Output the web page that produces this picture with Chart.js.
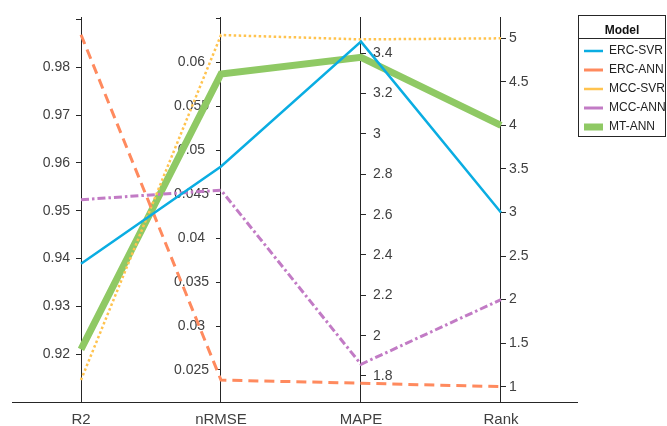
<!DOCTYPE html>
<html>
<head>
<meta charset="utf-8">
<script src="https://cdn.jsdelivr.net/npm/chart.js@4.4.1/dist/chart.umd.min.js"></script>
<style>
  html, body { margin: 0; padding: 0; background: #fff; }
</style>
</head>
<body>
<canvas id="chart" width="667" height="426"></canvas>
<script>
// axes of the parallel plot, left to right
var axisNames = ['R2', 'nRMSE', 'MAPE', 'Rank'];
var models = ['ERC-SVR', 'ERC-ANN', 'MCC-SVR', 'MCC-ANN', 'MT-ANN'];

// one value per model, in the order of `models`
var r2Values = [0.9389, 0.9868, 0.9146, 0.9523, 0.9210];
var nrmseValues = [0.04815, 0.02386, 0.0631, 0.04546, 0.05867];
var mapeValues = [3.458, 1.764, 3.469, 1.858, 3.380];
var rankValues = [3, 1, 5, 2, 4];

// range of every coordinate axis
var axisMin = [0.9100, 0.02136, 1.671, 0.824];
var axisMax = [0.9905, 0.06515, 3.580, 5.245];
var axisStep = [0.01, 0.005, 0.2, 0.5];

var colors = ['#0aade2', '#ff8a5e', '#ffc34f', '#c27bc5', '#8fc964'];
var widths = [2.5, 3, 2.5, 3, 7];
var dashes = [[], [10, 6], [2.5, 2.5], [8, 3, 2.5, 3], []];

var allValues = [r2Values, nrmseValues, mapeValues, rankValues];
var axisIds = ['yR2', 'yNRMSE', 'yMAPE', 'yRank'];
var ink = '#262626';
var txt = '#404040';

Chart.defaults.font.family = "'Liberation Sans', Arial, sans-serif";
Chart.defaults.color = txt;

var datasets = models.map(function(name, i) {
  return {
    label: name,
    data: axisNames.map(function(a, k) {
      return { x: k, y: (allValues[k][i] - axisMin[k]) / (axisMax[k] - axisMin[k]) };
    }),
    borderColor: colors[i],
    backgroundColor: colors[i],
    borderWidth: widths[i],
    borderDash: dashes[i],
    pointRadius: 0,
    tension: 0,
    yAxisID: 'y'
  };
});

function fmt(v) { return String(+v.toFixed(3)); }

var labelFilters = [
  function(v) { return (v < 0.915 || v > 0.985) ? '' : v.toFixed(2); },
  function(v) { return v > 0.0625 ? '' : fmt(v); },
  function(v) { return fmt(v); },
  function(v) { return fmt(v); }
];
var sides = ['left', 'left', 'right', 'right'];
var pads = [6, 7, 7, 3];

var scales = {
  x: {
    type: 'linear',
    min: -0.4929,
    max: 3.543,
    grid: { drawOnChartArea: false, drawTicks: false },
    border: { display: true, color: ink, width: 1 },
    ticks: {
      stepSize: 1,
      includeBounds: false,
      padding: 9,
      maxRotation: 0,
      color: txt,
      font: { size: 15 },
      callback: function(v) { return axisNames[v] || ''; }
    },
    afterFit: function(s) { s.height = 24; s.paddingLeft = 0; s.paddingRight = 0; }
  },
  y: { display: false, min: 0, max: 1 }
};

axisIds.forEach(function(id, k) {
  scales[id] = {
    type: 'linear',
    position: sides[k],
    min: axisMin[k],
    max: axisMax[k],
    grid: { drawOnChartArea: false, drawTicks: true, tickLength: 5, color: ink },
    border: { display: true, color: ink, width: 1 },
    ticks: {
      stepSize: axisStep[k],
      includeBounds: false,
      autoSkip: false,
      padding: pads[k],
      crossAlign: k === 1 ? 'center' : 'near',
      color: txt,
      font: { size: 14 },
      callback: labelFilters[k]
    },
    afterFit: function(s) { s.width = 0; s.paddingTop = 0; s.paddingBottom = 0; }
  };
});

// put each coordinate axis at its position on the x scale,
// keeping a box wide enough for the tick labels
var placeAxes = {
  id: 'placeAxes',
  afterLayout: function(chart) {
    axisIds.forEach(function(id, k) {
      var s = chart.scales[id];
      var px = chart.scales.x.getPixelForValue(k);
      if (sides[k] === 'left') {
        s.left = px - 70;
        s.right = px;
      } else {
        s.left = px;
        s.right = px + 70;
      }
      s.width = 70;
    });
  }
};

// box and title rule round the legend
var legendFrame = {
  id: 'legendFrame',
  afterDraw: function(chart) {
    var lg = chart.legend;
    var ctx = chart.ctx;
    var x0 = Math.round(lg.left) + 1.5;
    var x1 = 665.5;
    var y0 = Math.round(lg.top) - 1.5;
    ctx.save();
    ctx.strokeStyle = ink;
    ctx.lineWidth = 1;
    ctx.strokeRect(x0, y0, x1 - x0, 121);
    ctx.beginPath();
    ctx.moveTo(x0, y0 + 23);
    ctx.lineTo(x1, y0 + 23);
    ctx.stroke();
    ctx.restore();
  }
};

new Chart(document.getElementById('chart').getContext('2d'), {
  type: 'line',
  data: { datasets: datasets },
  options: {
    responsive: false,
    animation: false,
    devicePixelRatio: 1,
    layout: { padding: { left: 12, top: 17, right: 0, bottom: 0 } },
    scales: scales,
    plugins: {
      tooltip: { enabled: false },
      legend: {
        position: 'right',
        align: 'start',
        maxWidth: 90,
        title: {
          display: true,
          text: 'Model',
          color: '#111',
          font: { size: 12, weight: 'bold', lineHeight: 1 },
          padding: { top: 8, bottom: 1 }
        },
        labels: {
          usePointStyle: true,
          pointStyle: 'line',
          pointStyleWidth: 19,
          padding: 7,
          color: '#222',
          font: { size: 12 }
        }
      }
    }
  },
  plugins: [placeAxes, legendFrame]
});
</script>
</body>
</html>
